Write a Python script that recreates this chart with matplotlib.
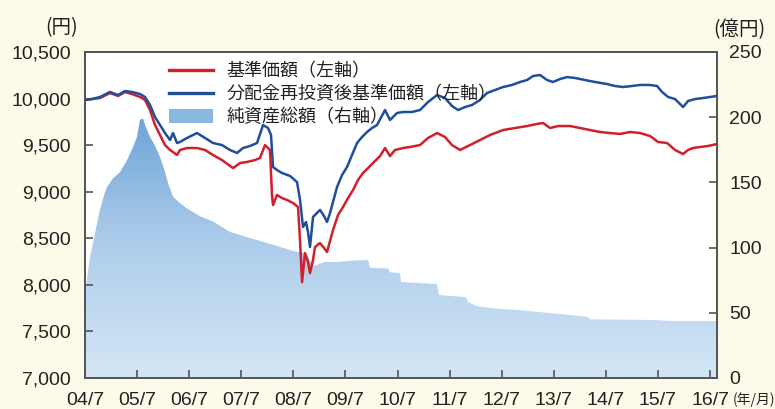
import numpy as np
import pandas as pd
import matplotlib
matplotlib.use("Agg")
import matplotlib.pyplot as plt
from matplotlib.colors import LinearSegmentedColormap
from matplotlib.patches import Patch
from matplotlib.lines import Line2D

plt.rcParams['font.family'] = ['Liberation Sans', 'Noto Sans CJK JP', 'DejaVu Sans']

# ---- data (t = years after 2004/7) ----
red_t = [0, .134, .288, .48, .634, .768, .902, 1.056, 1.152, 1.248, 1.344, 1.44, 1.536, 1.632, 1.69,
         1.767, 1.824, 1.959, 2.15, 2.304, 2.458, 2.63, 2.842, 2.976, 3.11, 3.264, 3.36, 3.456, 3.552,
         3.59, 3.61, 3.687, 3.783, 3.879, 3.994, 4.09, 4.128, 4.167, 4.224, 4.282, 4.32, 4.378, 4.416,
         4.512, 4.589, 4.647, 4.762, 4.858, 4.954, 5.05, 5.146, 5.242, 5.338, 5.434, 5.53, 5.664, 5.76,
         5.856, 5.952, 6.106, 6.24, 6.432, 6.586, 6.759, 6.912, 7.047, 7.2, 7.392, 7.585, 7.777, 8.026,
         8.257, 8.487, 8.679, 8.794, 8.929, 9.082, 9.313, 9.505, 9.697, 9.889, 10.081, 10.273, 10.465,
         10.657, 10.849, 11.002, 11.175, 11.329, 11.482, 11.578, 11.674, 11.809, 11.962, 12.134]
red_v = [9985, 9995, 10006, 10060, 10028, 10070, 10049, 10017, 9985, 9877, 9716, 9609, 9501, 9448, 9426,
         9394, 9448, 9469, 9469, 9448, 9394, 9340, 9254, 9308, 9319, 9340, 9362, 9501, 9448,
         8965, 8857, 8965, 8932, 8911, 8879, 8836, 8481, 8030, 8342, 8245, 8127, 8267, 8406,
         8449, 8396, 8353, 8589, 8750, 8836, 8932, 9018, 9126, 9201, 9254, 9308, 9383, 9469,
         9383, 9448, 9469, 9480, 9501, 9577, 9630, 9587, 9501, 9448, 9501, 9555, 9609, 9662,
         9684, 9705, 9727, 9738, 9684, 9705, 9705, 9684, 9662, 9641, 9630, 9620, 9641,
         9630, 9598, 9534, 9523, 9448, 9405, 9448, 9469, 9480, 9491, 9512]

blue_px = [85, 92, 100, 110, 118, 125, 132, 140, 145, 150, 155, 160, 165, 170, 173, 177, 180, 187, 197,
           205, 213, 222, 230, 237, 243, 250, 257, 263, 268, 271, 273, 277, 282, 290, 297, 300, 303, 306,
           308, 310, 313, 320, 324, 327, 330, 337, 342, 347, 352, 357, 362, 367, 372, 377, 385, 390, 397,
           403, 412, 420, 428, 437, 445, 452, 458, 465, 472, 480, 487, 495, 503, 512, 520, 527, 533, 540,
           547, 553, 560, 567, 575, 585, 595, 607, 615, 623, 632, 640, 650, 657, 662, 668, 675, 683, 688,
           695, 703, 710, 717]
blue_t = [(p - 85) / 52.08 for p in blue_px]
blue_v = [9985, 9995, 10017, 10071, 10038, 10081, 10071, 10049, 10017, 9931, 9802, 9716, 9630, 9555, 9630,
          9523, 9534, 9577, 9630, 9577, 9523, 9501, 9448, 9416, 9469, 9491, 9523, 9716, 9684, 9609,
          9265, 9233, 9201, 9169, 9104, 8911, 8621, 8675, 8567, 8406, 8729, 8804, 8739, 8675, 8771,
          9050, 9179, 9265, 9394, 9523, 9587, 9641, 9684, 9716, 9877, 9770, 9845, 9856, 9856, 9877,
          9963, 10038, 10006, 9920, 9877, 9909, 9931, 9985, 10060, 10092, 10124, 10146, 10178, 10199,
          10242, 10253, 10199, 10178, 10210, 10231, 10221, 10199, 10178, 10156, 10135, 10124, 10135,
          10146, 10146, 10135, 10071, 10017, 9995, 9909, 9974, 9995, 10006, 10017, 10028]

nav_px = [85, 86, 90, 93, 96, 100, 104, 107, 113, 120, 127, 133, 137, 140, 143, 146, 150, 155, 160, 165,
          168, 173, 180, 187, 200, 213, 230, 247, 265, 280, 295, 303, 308, 313, 318, 325, 337, 353, 368,
          370, 388, 390, 400, 401, 437, 439, 466, 468, 477, 500, 520, 560, 587, 590, 653, 670, 717]
nav_t = [(p - 85) / 52.08 for p in nav_px]
nav_v = [0, 70, 93, 103, 115, 129, 140, 146.5, 153, 158, 167, 177, 185, 198, 199, 192, 185, 178, 169.5,
         158, 149.5, 139, 134, 130, 124, 120, 112, 108, 104, 100.5, 97, 96, 93, 86, 87, 89, 89, 90,
         90.5, 84.5, 84, 81, 80.5, 73.6, 72, 63.6, 62, 58.3, 55, 53, 52, 49, 47, 45, 44.5, 43.7, 43.7]

xtick_labels = ['04/7', '05/7', '06/7', '07/7', '08/7', '09/7', '10/7', '11/7', '12/7', '13/7',
                '14/7', '15/7', '16/7']
left_ticks = [7000, 7500, 8000, 8500, 9000, 9500, 10000, 10500]
right_ticks = [0, 50, 100, 150, 200, 250]

legend_labels = ['基準価額（左軸）', '分配金再投資後基準価額（左軸）', '純資産総額（右軸）']

# ---- figure ----
bg = '#fcfae8'
fig = plt.figure(figsize=(7.75, 4.09), dpi=100, facecolor=bg)
ax2 = fig.add_axes([85 / 775, 1 - 378 / 409, (717 - 85) / 775, (378 - 52) / 409])
ax2.set_facecolor('white')
ax = ax2.twinx()
ax2.yaxis.tick_right()
ax.yaxis.tick_left()

ax.set_zorder(ax2.get_zorder() + 1)
ax.patch.set_visible(False)

xmax = 12.134
# NAV area with vertical gradient
poly = ax2.fill_between(nav_t, nav_v, 0, color='none', lw=0)
cmap = LinearSegmentedColormap.from_list('g', ['#d4e6f6', '#aecdeb', '#6aa2d5'])
grad = np.linspace(0, 1, 256).reshape(-1, 1)
im = ax2.imshow(grad, extent=[0, xmax, 0, 205], origin='lower', aspect='auto', cmap=cmap, zorder=1)
path = poly.get_paths()[0]
im.set_clip_path(path, transform=ax2.transData)

ax2.set_ylim(0, 250)
ax2.set_xlim(0, xmax)
ax2.set_yticks(right_ticks)
ax2.set_yticklabels([str(v) for v in right_ticks])

ax.plot(red_t, red_v, color='#d11f2c', lw=1.8, zorder=3)
ax.plot(blue_t, blue_v, color='#1f4f9c', lw=1.8, zorder=4)
ax.set_ylim(7000, 10500)
ax.set_xlim(0, xmax)
ax.set_yticks(left_ticks)
ax.set_yticklabels([f'{v:,}' for v in left_ticks])

ax2.set_xticks(range(13))
ax2.set_xticklabels(xtick_labels)

for a in (ax, ax2):
    for s in a.spines.values():
        s.set_color('#555555')
        s.set_linewidth(1.3)
ax2.tick_params(axis='x', direction='in', length=6, width=1.2, color='#555555', labelsize=14,
                pad=10, labelcolor='#222222')
ax2.tick_params(axis='y', direction='in', length=6, width=1.2, color='#555555', labelsize=14,
                pad=9, labelcolor='#222222')
ax.tick_params(axis='y', direction='in', length=6, width=1.2, color='#555555', labelsize=14,
               pad=10, labelcolor='#222222')

# unit labels
fig.text(62 / 775, 1 - 28 / 409, '(円)', ha='center', va='center', fontsize=14, color='#222222',
         family=['Noto Sans CJK JP', 'DejaVu Sans'])
fig.text(739 / 775, 1 - 30 / 409, '(億円)', ha='center', va='center', fontsize=14, color='#222222',
         family=['Noto Sans CJK JP', 'DejaVu Sans'])
fig.text(754 / 775, 1 - 400 / 409, '(年/月)', ha='center', va='center', fontsize=10, color='#222222',
         family=['Noto Sans CJK JP', 'DejaVu Sans'])

handles = [Line2D([], [], color='#d11f2c', lw=2.4),
           Line2D([], [], color='#1f4f9c', lw=2.4),
           Patch(facecolor='#8ab8e0', edgecolor='none')]
leg = ax.legend(handles, legend_labels, loc='upper left',
                bbox_to_anchor=((162 - 85) / 632, 1 - (55 - 52) / 326),
                frameon=False, handlelength=2.4, handleheight=0.8,
                labelspacing=0.28, handletextpad=0.75, borderaxespad=0,
                prop={'family': ['Noto Sans CJK JP', 'DejaVu Sans'], 'size': 13})
for t in leg.get_texts():
    t.set_color('#222222')

fig.savefig('out.png', dpi=100, facecolor=bg)
